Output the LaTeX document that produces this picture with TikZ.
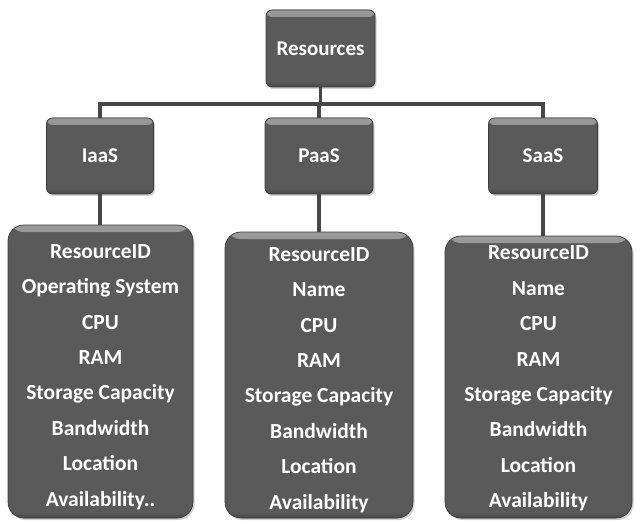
\documentclass[tikz,border=0pt]{standalone}
\usepackage{fontspec}
\setmainfont{Carlito}
\usetikzlibrary{shadows}
\definecolor{boxgray}{HTML}{5A5A5A}
\definecolor{boxtop}{HTML}{9A9A9A}
\definecolor{boxedge}{HTML}{3C3C3C}
\definecolor{linegray}{HTML}{474747}
\tikzset{
  box/.style={draw=boxedge, line width=0.7pt, fill=boxgray,
    path picture={
      \fill[top color=boxtop, bottom color=boxgray] (path picture bounding box.north west) rectangle ([yshift=-7pt]path picture bounding box.north east);
      \fill[top color=boxgray, bottom color=boxgray!80!black] ([yshift=6pt]path picture bounding box.south west) rectangle (path picture bounding box.south east);
    },
    drop shadow={shadow xshift=1.5pt, shadow yshift=-2pt, fill=black!30, opacity=0.6},
    text=white, font=\bfseries\fontsize{21}{24}\selectfont, inner sep=0pt},
  headbox/.style={box, rounded corners=6pt},
  detbox/.style={box, rounded corners=16pt},
  dettext/.style={text=white, align=center, font=\bfseries\fontsize{21.5}{35.4}\selectfont, inner sep=0pt},
  conn/.style={draw=linegray, line width=3.4pt}
}
\begin{document}
\begin{tikzpicture}[x=1pt,y=-1pt]
\useasboundingbox[fill=white] (0,0) rectangle (636,521);
\coordinate (bus) at (0,104);
\node[headbox, minimum width=109pt, minimum height=77pt] (res) at (320.5,48.5) {Resources};
\node[headbox, minimum width=107pt, minimum height=76pt] (iaas) at (100,156) {IaaS};
\node[headbox, minimum width=108pt, minimum height=76pt] (paas) at (319,156) {PaaS};
\node[headbox, minimum width=109pt, minimum height=76pt] (saas) at (543,156) {SaaS};
\node[detbox, minimum width=185pt, minimum height=293pt] (iaasd) at (100.5,371.5) {};
\node[detbox, minimum width=188pt, minimum height=286pt] (paasd) at (319,375) {};
\node[detbox, minimum width=187pt, minimum height=282pt] (saasd) at (538.5,377) {};
\draw[conn] (iaas.north) |- (bus -| paas.north) -| (saas.north);
\draw[conn] (res.south) -- (res.south |- bus);
\draw[conn] (paas.north) -- (paas.north |- bus);
\draw[conn] (iaas.south) -- (iaas.south |- iaasd.north);
\draw[conn] (paas.south) -- (paas.south |- paasd.north);
\draw[conn] (saas.south) -- (saas.south |- saasd.north);
\node[dettext] (iaast) at (100.5,377) {ResourceID\\Operating System\\CPU\\RAM\\Storage Capacity\\Bandwidth\\Location\\Availability..};
\node[dettext] (paast) at (319,380) {ResourceID\\Name\\CPU\\RAM\\Storage Capacity\\Bandwidth\\Location\\Availability};
\node[dettext] (saast) at (538.5,378.5) {ResourceID\\Name\\CPU\\RAM\\Storage Capacity\\Bandwidth\\Location\\Availability};
\end{tikzpicture}
\end{document}
